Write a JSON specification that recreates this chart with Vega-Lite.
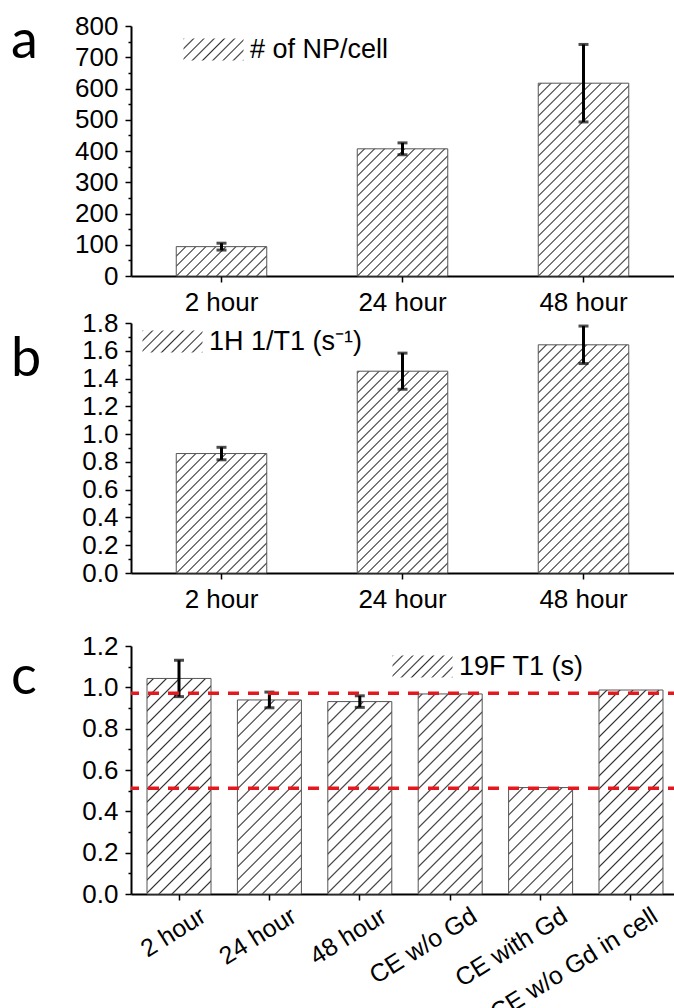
{
"$schema": "https://vega.github.io/schema/vega-lite/v6.json",
"padding": {"left": 11, "top": 13, "right": 0, "bottom": 0},
"background": "white",
"spacing": -5,
"resolve": {"scale": {"shape": "independent"}, "legend": {"shape": "independent"}},
"config": {
  "view": {"stroke": null},
  "axis": {"domainColor": "black", "domainWidth": 2, "tickColor": "black", "tickWidth": 1.5, "tickSize": 6, "labelColor": "black", "labelFont": "Liberation Sans", "labelFontSize": 26, "grid": false, "labelPadding": 7, "labelOverlap": false}
},
"datasets": {
  "A": [{"t": "2 hour", "v": 94, "e": 11}, {"t": "24 hour", "v": 407, "e": 19}, {"t": "48 hour", "v": 617, "e": 124}],
  "B": [{"t": "2 hour", "v": 0.86, "e": 0.045}, {"t": "24 hour", "v": 1.453, "e": 0.13}, {"t": "48 hour", "v": 1.643, "e": 0.135}],
  "C": [{"t": "2 hour", "v": 1.043, "e": 0.088}, {"t": "24 hour", "v": 0.939, "e": 0.038}, {"t": "48 hour", "v": 0.931, "e": 0.028}, {"t": "CE w/o Gd", "v": 0.968}, {"t": "CE with Gd", "v": 0.515}, {"t": "CE w/o Gd in cell", "v": 0.987}],
  "REF": [{"ref": 0.971}, {"ref": 0.512}],
  "NONE": []
},
"vconcat": [
{
  "width": 543, "height": 250,
  "title": {"text": "a", "anchor": "start", "frame": "group", "font": "Lato", "fontSize": 54, "fontWeight": "normal", "color": "black", "dx": -120, "dy": 60},
  "data": {"name": "A"},
  "layer": [
    {"mark": {"type": "bar", "fill": {"gradient": "linear", "x1": 0, "y1": 0, "x2": 0.435, "y2": 1.204, "stops": [
      {"offset":0,"color":"#333"},{"offset":0.0044,"color":"#fff"},
      {"offset":0.025,"color":"#fff"},{"offset":0.0294,"color":"#333"},{"offset":0.0338,"color":"#fff"},
      {"offset":0.0544,"color":"#fff"},{"offset":0.0588,"color":"#333"},{"offset":0.0632,"color":"#fff"},
      {"offset":0.0838,"color":"#fff"},{"offset":0.0882,"color":"#333"},{"offset":0.0926,"color":"#fff"},
      {"offset":0.1132,"color":"#fff"},{"offset":0.1176,"color":"#333"},{"offset":0.1221,"color":"#fff"},
      {"offset":0.1426,"color":"#fff"},{"offset":0.1471,"color":"#333"},{"offset":0.1515,"color":"#fff"},
      {"offset":0.1721,"color":"#fff"},{"offset":0.1765,"color":"#333"},{"offset":0.1809,"color":"#fff"},
      {"offset":0.2015,"color":"#fff"},{"offset":0.2059,"color":"#333"},{"offset":0.2103,"color":"#fff"},
      {"offset":0.2309,"color":"#fff"},{"offset":0.2353,"color":"#333"},{"offset":0.2397,"color":"#fff"},
      {"offset":0.2603,"color":"#fff"},{"offset":0.2647,"color":"#333"},{"offset":0.2691,"color":"#fff"},
      {"offset":0.2897,"color":"#fff"},{"offset":0.2941,"color":"#333"},{"offset":0.2985,"color":"#fff"},
      {"offset":0.3191,"color":"#fff"},{"offset":0.3235,"color":"#333"},{"offset":0.3279,"color":"#fff"},
      {"offset":0.3485,"color":"#fff"},{"offset":0.3529,"color":"#333"},{"offset":0.3574,"color":"#fff"},
      {"offset":0.3779,"color":"#fff"},{"offset":0.3824,"color":"#333"},{"offset":0.3868,"color":"#fff"},
      {"offset":0.4074,"color":"#fff"},{"offset":0.4118,"color":"#333"},{"offset":0.4162,"color":"#fff"},
      {"offset":0.4368,"color":"#fff"},{"offset":0.4412,"color":"#333"},{"offset":0.4456,"color":"#fff"},
      {"offset":0.4662,"color":"#fff"},{"offset":0.4706,"color":"#333"},{"offset":0.475,"color":"#fff"},
      {"offset":0.4956,"color":"#fff"},{"offset":0.5,"color":"#333"},{"offset":0.5044,"color":"#fff"},
      {"offset":0.525,"color":"#fff"},{"offset":0.5294,"color":"#333"},{"offset":0.5338,"color":"#fff"},
      {"offset":0.5544,"color":"#fff"},{"offset":0.5588,"color":"#333"},{"offset":0.5632,"color":"#fff"},
      {"offset":0.5838,"color":"#fff"},{"offset":0.5882,"color":"#333"},{"offset":0.5926,"color":"#fff"},
      {"offset":0.6132,"color":"#fff"},{"offset":0.6176,"color":"#333"},{"offset":0.6221,"color":"#fff"},
      {"offset":0.6426,"color":"#fff"},{"offset":0.6471,"color":"#333"},{"offset":0.6515,"color":"#fff"},
      {"offset":0.6721,"color":"#fff"},{"offset":0.6765,"color":"#333"},{"offset":0.6809,"color":"#fff"},
      {"offset":0.7015,"color":"#fff"},{"offset":0.7059,"color":"#333"},{"offset":0.7103,"color":"#fff"},
      {"offset":0.7309,"color":"#fff"},{"offset":0.7353,"color":"#333"},{"offset":0.7397,"color":"#fff"},
      {"offset":0.7603,"color":"#fff"},{"offset":0.7647,"color":"#333"},{"offset":0.7691,"color":"#fff"},
      {"offset":0.7897,"color":"#fff"},{"offset":0.7941,"color":"#333"},{"offset":0.7985,"color":"#fff"},
      {"offset":0.8191,"color":"#fff"},{"offset":0.8235,"color":"#333"},{"offset":0.8279,"color":"#fff"},
      {"offset":0.8485,"color":"#fff"},{"offset":0.8529,"color":"#333"},{"offset":0.8574,"color":"#fff"},
      {"offset":0.8779,"color":"#fff"},{"offset":0.8824,"color":"#333"},{"offset":0.8868,"color":"#fff"},
      {"offset":0.9074,"color":"#fff"},{"offset":0.9118,"color":"#333"},{"offset":0.9162,"color":"#fff"},
      {"offset":0.9368,"color":"#fff"},{"offset":0.9412,"color":"#333"},{"offset":0.9456,"color":"#fff"},
      {"offset":0.9662,"color":"#fff"},{"offset":0.9706,"color":"#333"},{"offset":0.975,"color":"#fff"},
      {"offset":0.9956,"color":"#fff"},{"offset":1,"color":"#333"}]}},
     "encoding": {
       "x": {"field": "t", "type": "nominal", "sort": null, "scale": {"paddingInner": 0.5, "paddingOuter": 0.25}, "axis": {"title": null, "labelAngle": 0}},
       "y": {"datum": 800, "type": "quantitative", "scale": {"domain": [0, 800], "nice": false}, "axis": {"title": null, "labelOverlap": false, "tickCount": 40, "values": [0,50,100,150,200,250,300,350,400,450,500,550,600,650,700,750,800], "labelExpr": "datum.value % 100 === 0 ? datum.label : ''", "tickSize": {"condition": {"test": "datum.value % 100 === 0", "value": 6}, "value": 3}}},
       "y2": {"datum": 0}
     }},
    {"mark": {"type": "bar", "fill": "white", "width": {"band": 1.03}},
     "encoding": {"x": {"field": "t", "type": "nominal", "sort": null}, "y": {"field": "v", "type": "quantitative"}, "y2": {"datum": 800}}},
    {"mark": {"type": "bar", "filled": false, "stroke": "#555", "strokeWidth": 1},
     "encoding": {"x": {"field": "t", "type": "nominal", "sort": null}, "y": {"field": "v", "type": "quantitative"}}},
    {"mark": {"type": "errorbar", "ticks": true, "thickness": 3, "size": 10, "color": "black"},
     "encoding": {"x": {"field": "t", "type": "nominal", "sort": null}, "y": {"field": "v", "type": "quantitative"}, "yError": {"field": "e"}}},
    {"data": {"name": "NONE"},
     "mark": {"type": "point", "filled": true, "opacity": 1, "size": 3600, "stroke": "#555", "strokeWidth": 1, "fill": {"gradient": "linear", "x1": 0, "y1": 0, "x2": 1.2047, "y2": 0.4417, "stops": [
         {"offset":0,"color":"#333"},{"offset":0.0188,"color":"#fff"},
         {"offset":0.1063,"color":"#fff"},{"offset":0.125,"color":"#333"},{"offset":0.1438,"color":"#fff"},
         {"offset":0.2313,"color":"#fff"},{"offset":0.25,"color":"#333"},{"offset":0.2688,"color":"#fff"},
         {"offset":0.3563,"color":"#fff"},{"offset":0.375,"color":"#333"},{"offset":0.3938,"color":"#fff"},
         {"offset":0.4813,"color":"#fff"},{"offset":0.5,"color":"#333"},{"offset":0.5188,"color":"#fff"},
         {"offset":0.6063,"color":"#fff"},{"offset":0.625,"color":"#333"},{"offset":0.6438,"color":"#fff"},
         {"offset":0.7313,"color":"#fff"},{"offset":0.75,"color":"#333"},{"offset":0.7688,"color":"#fff"},
         {"offset":0.8563,"color":"#fff"},{"offset":0.875,"color":"#333"},{"offset":0.8938,"color":"#fff"},
         {"offset":0.9813,"color":"#fff"},{"offset":1,"color":"#333"}]}},
     "encoding": {"shape": {"datum": "# of NP/cell", "type": "nominal",
       "scale": {"range": ["M-1,-0.3667H1V0.3667H-1Z"]},
       "legend": {"title": null, "orient": "none", "legendX": 52, "legendY": -7, "symbolSize": 3600, "symbolStrokeColor": "#555", "symbolStrokeWidth": 1, "symbolOpacity": 1, "labelFont": "Liberation Sans", "labelFontSize": 27, "labelColor": "black", "labelOffset": 6, "labelLimit": 400, "padding": 0}}}}
  ]
},
{
  "width": 543, "height": 250,
  "title": {"text": "b", "anchor": "start", "frame": "group", "font": "Lato", "fontSize": 54, "fontWeight": "normal", "color": "black", "dx": -120, "dy": 81},
  "data": {"name": "B"},
  "layer": [
    {"mark": {"type": "bar", "fill": {"gradient": "linear", "x1": 0, "y1": 0, "x2": 0.435, "y2": 1.204, "stops": [
      {"offset":0,"color":"#333"},{"offset":0.0044,"color":"#fff"},
      {"offset":0.025,"color":"#fff"},{"offset":0.0294,"color":"#333"},{"offset":0.0338,"color":"#fff"},
      {"offset":0.0544,"color":"#fff"},{"offset":0.0588,"color":"#333"},{"offset":0.0632,"color":"#fff"},
      {"offset":0.0838,"color":"#fff"},{"offset":0.0882,"color":"#333"},{"offset":0.0926,"color":"#fff"},
      {"offset":0.1132,"color":"#fff"},{"offset":0.1176,"color":"#333"},{"offset":0.1221,"color":"#fff"},
      {"offset":0.1426,"color":"#fff"},{"offset":0.1471,"color":"#333"},{"offset":0.1515,"color":"#fff"},
      {"offset":0.1721,"color":"#fff"},{"offset":0.1765,"color":"#333"},{"offset":0.1809,"color":"#fff"},
      {"offset":0.2015,"color":"#fff"},{"offset":0.2059,"color":"#333"},{"offset":0.2103,"color":"#fff"},
      {"offset":0.2309,"color":"#fff"},{"offset":0.2353,"color":"#333"},{"offset":0.2397,"color":"#fff"},
      {"offset":0.2603,"color":"#fff"},{"offset":0.2647,"color":"#333"},{"offset":0.2691,"color":"#fff"},
      {"offset":0.2897,"color":"#fff"},{"offset":0.2941,"color":"#333"},{"offset":0.2985,"color":"#fff"},
      {"offset":0.3191,"color":"#fff"},{"offset":0.3235,"color":"#333"},{"offset":0.3279,"color":"#fff"},
      {"offset":0.3485,"color":"#fff"},{"offset":0.3529,"color":"#333"},{"offset":0.3574,"color":"#fff"},
      {"offset":0.3779,"color":"#fff"},{"offset":0.3824,"color":"#333"},{"offset":0.3868,"color":"#fff"},
      {"offset":0.4074,"color":"#fff"},{"offset":0.4118,"color":"#333"},{"offset":0.4162,"color":"#fff"},
      {"offset":0.4368,"color":"#fff"},{"offset":0.4412,"color":"#333"},{"offset":0.4456,"color":"#fff"},
      {"offset":0.4662,"color":"#fff"},{"offset":0.4706,"color":"#333"},{"offset":0.475,"color":"#fff"},
      {"offset":0.4956,"color":"#fff"},{"offset":0.5,"color":"#333"},{"offset":0.5044,"color":"#fff"},
      {"offset":0.525,"color":"#fff"},{"offset":0.5294,"color":"#333"},{"offset":0.5338,"color":"#fff"},
      {"offset":0.5544,"color":"#fff"},{"offset":0.5588,"color":"#333"},{"offset":0.5632,"color":"#fff"},
      {"offset":0.5838,"color":"#fff"},{"offset":0.5882,"color":"#333"},{"offset":0.5926,"color":"#fff"},
      {"offset":0.6132,"color":"#fff"},{"offset":0.6176,"color":"#333"},{"offset":0.6221,"color":"#fff"},
      {"offset":0.6426,"color":"#fff"},{"offset":0.6471,"color":"#333"},{"offset":0.6515,"color":"#fff"},
      {"offset":0.6721,"color":"#fff"},{"offset":0.6765,"color":"#333"},{"offset":0.6809,"color":"#fff"},
      {"offset":0.7015,"color":"#fff"},{"offset":0.7059,"color":"#333"},{"offset":0.7103,"color":"#fff"},
      {"offset":0.7309,"color":"#fff"},{"offset":0.7353,"color":"#333"},{"offset":0.7397,"color":"#fff"},
      {"offset":0.7603,"color":"#fff"},{"offset":0.7647,"color":"#333"},{"offset":0.7691,"color":"#fff"},
      {"offset":0.7897,"color":"#fff"},{"offset":0.7941,"color":"#333"},{"offset":0.7985,"color":"#fff"},
      {"offset":0.8191,"color":"#fff"},{"offset":0.8235,"color":"#333"},{"offset":0.8279,"color":"#fff"},
      {"offset":0.8485,"color":"#fff"},{"offset":0.8529,"color":"#333"},{"offset":0.8574,"color":"#fff"},
      {"offset":0.8779,"color":"#fff"},{"offset":0.8824,"color":"#333"},{"offset":0.8868,"color":"#fff"},
      {"offset":0.9074,"color":"#fff"},{"offset":0.9118,"color":"#333"},{"offset":0.9162,"color":"#fff"},
      {"offset":0.9368,"color":"#fff"},{"offset":0.9412,"color":"#333"},{"offset":0.9456,"color":"#fff"},
      {"offset":0.9662,"color":"#fff"},{"offset":0.9706,"color":"#333"},{"offset":0.975,"color":"#fff"},
      {"offset":0.9956,"color":"#fff"},{"offset":1,"color":"#333"}]}},
     "encoding": {
       "x": {"field": "t", "type": "nominal", "sort": null, "scale": {"paddingInner": 0.5, "paddingOuter": 0.25}, "axis": {"title": " ", "titleFontSize": 10, "titlePadding": 16, "labelAngle": 0}},
       "y": {"datum": 1.8, "type": "quantitative", "scale": {"domain": [0, 1.8], "nice": false}, "axis": {"title": null, "labelOverlap": false, "tickCount": 40, "format": ".1f", "values": [0,0.1,0.2,0.3,0.4,0.5,0.6,0.7,0.8,0.9,1,1.1,1.2,1.3,1.4,1.5,1.6,1.7,1.8], "labelExpr": "round(datum.value*10) % 2 === 0 ? datum.label : ''", "tickSize": {"condition": {"test": "round(datum.value*10) % 2 === 0", "value": 6}, "value": 3}}},
       "y2": {"datum": 0}
     }},
    {"mark": {"type": "bar", "fill": "white", "width": {"band": 1.03}},
     "encoding": {"x": {"field": "t", "type": "nominal", "sort": null}, "y": {"field": "v", "type": "quantitative"}, "y2": {"datum": 1.8}}},
    {"mark": {"type": "bar", "filled": false, "stroke": "#555", "strokeWidth": 1},
     "encoding": {"x": {"field": "t", "type": "nominal", "sort": null}, "y": {"field": "v", "type": "quantitative"}}},
    {"mark": {"type": "errorbar", "ticks": true, "thickness": 3, "size": 10, "color": "black"},
     "encoding": {"x": {"field": "t", "type": "nominal", "sort": null}, "y": {"field": "v", "type": "quantitative"}, "yError": {"field": "e"}}},
    {"data": {"name": "NONE"},
     "mark": {"type": "point", "filled": true, "opacity": 1, "size": 3600, "stroke": "#555", "strokeWidth": 1, "fill": {"gradient": "linear", "x1": 0, "y1": 0, "x2": 1.2047, "y2": 0.4417, "stops": [
         {"offset":0,"color":"#333"},{"offset":0.0188,"color":"#fff"},
         {"offset":0.1063,"color":"#fff"},{"offset":0.125,"color":"#333"},{"offset":0.1438,"color":"#fff"},
         {"offset":0.2313,"color":"#fff"},{"offset":0.25,"color":"#333"},{"offset":0.2688,"color":"#fff"},
         {"offset":0.3563,"color":"#fff"},{"offset":0.375,"color":"#333"},{"offset":0.3938,"color":"#fff"},
         {"offset":0.4813,"color":"#fff"},{"offset":0.5,"color":"#333"},{"offset":0.5188,"color":"#fff"},
         {"offset":0.6063,"color":"#fff"},{"offset":0.625,"color":"#333"},{"offset":0.6438,"color":"#fff"},
         {"offset":0.7313,"color":"#fff"},{"offset":0.75,"color":"#333"},{"offset":0.7688,"color":"#fff"},
         {"offset":0.8563,"color":"#fff"},{"offset":0.875,"color":"#333"},{"offset":0.8938,"color":"#fff"},
         {"offset":0.9813,"color":"#fff"},{"offset":1,"color":"#333"}]}},
     "encoding": {"shape": {"datum": "1H 1/T1 (s⁻¹)", "type": "nominal",
       "scale": {"range": ["M-1,-0.3667H1V0.3667H-1Z"]},
       "legend": {"title": null, "orient": "none", "legendX": 11, "legendY": -12, "symbolSize": 3600, "symbolStrokeColor": "#555", "symbolStrokeWidth": 1, "symbolOpacity": 1, "labelFont": "Liberation Sans", "labelFontSize": 27, "labelColor": "black", "labelOffset": 6, "labelLimit": 400, "padding": 0}}}}
  ]
},
{
  "width": 548, "height": 248,
  "title": {"text": "c", "anchor": "start", "frame": "group", "font": "Lato", "fontSize": 54, "fontWeight": "normal", "color": "black", "dx": -120, "dy": 76},
  "data": {"name": "C"},
  "layer": [
    {"mark": {"type": "bar", "fill": {"gradient": "linear", "x1": 0, "y1": 0, "x2": 0.3044, "y2": 1.1795, "stops": [
      {"offset":0,"color":"#333"},{"offset":0.005,"color":"#fff"},
      {"offset":0.0367,"color":"#fff"},{"offset":0.0417,"color":"#333"},{"offset":0.0467,"color":"#fff"},
      {"offset":0.0783,"color":"#fff"},{"offset":0.0833,"color":"#333"},{"offset":0.0883,"color":"#fff"},
      {"offset":0.12,"color":"#fff"},{"offset":0.125,"color":"#333"},{"offset":0.13,"color":"#fff"},
      {"offset":0.1617,"color":"#fff"},{"offset":0.1667,"color":"#333"},{"offset":0.1717,"color":"#fff"},
      {"offset":0.2033,"color":"#fff"},{"offset":0.2083,"color":"#333"},{"offset":0.2133,"color":"#fff"},
      {"offset":0.245,"color":"#fff"},{"offset":0.25,"color":"#333"},{"offset":0.255,"color":"#fff"},
      {"offset":0.2867,"color":"#fff"},{"offset":0.2917,"color":"#333"},{"offset":0.2967,"color":"#fff"},
      {"offset":0.3283,"color":"#fff"},{"offset":0.3333,"color":"#333"},{"offset":0.3383,"color":"#fff"},
      {"offset":0.37,"color":"#fff"},{"offset":0.375,"color":"#333"},{"offset":0.38,"color":"#fff"},
      {"offset":0.4117,"color":"#fff"},{"offset":0.4167,"color":"#333"},{"offset":0.4217,"color":"#fff"},
      {"offset":0.4533,"color":"#fff"},{"offset":0.4583,"color":"#333"},{"offset":0.4633,"color":"#fff"},
      {"offset":0.495,"color":"#fff"},{"offset":0.5,"color":"#333"},{"offset":0.505,"color":"#fff"},
      {"offset":0.5367,"color":"#fff"},{"offset":0.5417,"color":"#333"},{"offset":0.5467,"color":"#fff"},
      {"offset":0.5783,"color":"#fff"},{"offset":0.5833,"color":"#333"},{"offset":0.5883,"color":"#fff"},
      {"offset":0.62,"color":"#fff"},{"offset":0.625,"color":"#333"},{"offset":0.63,"color":"#fff"},
      {"offset":0.6617,"color":"#fff"},{"offset":0.6667,"color":"#333"},{"offset":0.6717,"color":"#fff"},
      {"offset":0.7033,"color":"#fff"},{"offset":0.7083,"color":"#333"},{"offset":0.7133,"color":"#fff"},
      {"offset":0.745,"color":"#fff"},{"offset":0.75,"color":"#333"},{"offset":0.755,"color":"#fff"},
      {"offset":0.7867,"color":"#fff"},{"offset":0.7917,"color":"#333"},{"offset":0.7967,"color":"#fff"},
      {"offset":0.8283,"color":"#fff"},{"offset":0.8333,"color":"#333"},{"offset":0.8383,"color":"#fff"},
      {"offset":0.87,"color":"#fff"},{"offset":0.875,"color":"#333"},{"offset":0.88,"color":"#fff"},
      {"offset":0.9117,"color":"#fff"},{"offset":0.9167,"color":"#333"},{"offset":0.9217,"color":"#fff"},
      {"offset":0.9533,"color":"#fff"},{"offset":0.9583,"color":"#333"},{"offset":0.9633,"color":"#fff"},
      {"offset":0.995,"color":"#fff"},{"offset":1,"color":"#333"}]}},
     "encoding": {
       "x": {"field": "t", "type": "nominal", "sort": null, "scale": {"paddingInner": 0.292, "paddingOuter": 0.177}, "axis": {"title": null, "labelAngle": -32, "labelAlign": "right", "labelBaseline": "top", "labelOffset": 18, "labelPadding": 3, "labelLimit": 300, "labelFontSize": 25}},
       "y": {"datum": 1.2, "type": "quantitative", "scale": {"domain": [0, 1.2], "nice": false}, "axis": {"title": null, "labelOverlap": false, "tickCount": 40, "format": ".1f", "values": [0,0.1,0.2,0.3,0.4,0.5,0.6,0.7,0.8,0.9,1,1.1,1.2], "labelExpr": "round(datum.value*10) % 2 === 0 ? datum.label : ''", "tickSize": {"condition": {"test": "round(datum.value*10) % 2 === 0", "value": 6}, "value": 3}}},
       "y2": {"datum": 0}
     }},
    {"mark": {"type": "bar", "fill": "white", "width": {"band": 1.03}},
     "encoding": {"x": {"field": "t", "type": "nominal", "sort": null}, "y": {"field": "v", "type": "quantitative"}, "y2": {"datum": 1.2}}},
    {"mark": {"type": "bar", "filled": false, "stroke": "#555", "strokeWidth": 1},
     "encoding": {"x": {"field": "t", "type": "nominal", "sort": null}, "y": {"field": "v", "type": "quantitative"}}},
    {"transform": [{"filter": "isValid(datum.e)"}],
     "mark": {"type": "errorbar", "ticks": true, "thickness": 3, "size": 10, "color": "black"},
     "encoding": {"x": {"field": "t", "type": "nominal", "sort": null}, "y": {"field": "v", "type": "quantitative"}, "yError": {"field": "e"}}},
    {"data": {"name": "REF"}, "mark": {"type": "rule", "color": "#e3191f", "strokeWidth": 3.5, "strokeDash": [11, 9]},
     "encoding": {"y": {"field": "ref", "type": "quantitative"}}},
    {"data": {"name": "NONE"},
     "mark": {"type": "point", "filled": true, "opacity": 1, "size": 3600, "stroke": "#555", "strokeWidth": 1, "fill": {"gradient": "linear", "x1": 0, "y1": 0, "x2": 1.2047, "y2": 0.4417, "stops": [
         {"offset":0,"color":"#333"},{"offset":0.0188,"color":"#fff"},
         {"offset":0.1063,"color":"#fff"},{"offset":0.125,"color":"#333"},{"offset":0.1438,"color":"#fff"},
         {"offset":0.2313,"color":"#fff"},{"offset":0.25,"color":"#333"},{"offset":0.2688,"color":"#fff"},
         {"offset":0.3563,"color":"#fff"},{"offset":0.375,"color":"#333"},{"offset":0.3938,"color":"#fff"},
         {"offset":0.4813,"color":"#fff"},{"offset":0.5,"color":"#333"},{"offset":0.5188,"color":"#fff"},
         {"offset":0.6063,"color":"#fff"},{"offset":0.625,"color":"#333"},{"offset":0.6438,"color":"#fff"},
         {"offset":0.7313,"color":"#fff"},{"offset":0.75,"color":"#333"},{"offset":0.7688,"color":"#fff"},
         {"offset":0.8563,"color":"#fff"},{"offset":0.875,"color":"#333"},{"offset":0.8938,"color":"#fff"},
         {"offset":0.9813,"color":"#fff"},{"offset":1,"color":"#333"}]}},
     "encoding": {"shape": {"datum": "19F T1 (s)", "type": "nominal",
       "scale": {"range": ["M-1,-0.3667H1V0.3667H-1Z"]},
       "legend": {"title": null, "orient": "none", "legendX": 261, "legendY": -10, "symbolSize": 3600, "symbolStrokeColor": "#555", "symbolStrokeWidth": 1, "symbolOpacity": 1, "labelFont": "Liberation Sans", "labelFontSize": 27, "labelColor": "black", "labelOffset": 6, "labelLimit": 400, "padding": 0}}}}
  ]
}
]
}
